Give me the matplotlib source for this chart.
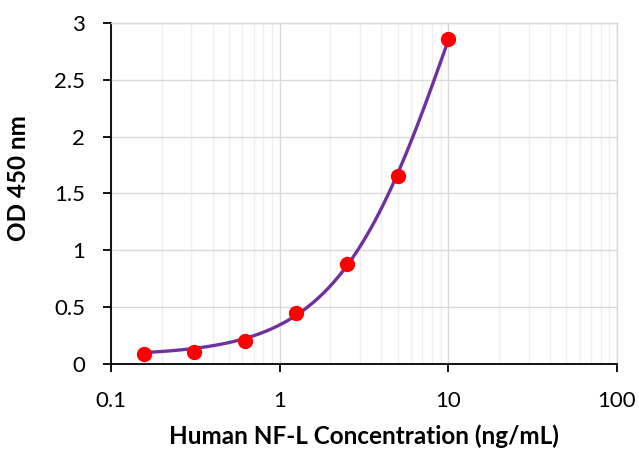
import numpy as np
import matplotlib
matplotlib.use("Agg")
import matplotlib.pyplot as plt
from matplotlib.ticker import FixedLocator, LogLocator, NullFormatter, FuncFormatter

conc = [0.156, 0.3125, 0.625, 1.25, 2.5, 5.0, 10.0]
od = [0.083, 0.106, 0.203, 0.444, 0.878, 1.652, 2.856]
# Fitted standard curve
curve_conc = [0.156, 0.3125, 0.625, 1.0, 1.25, 2.0, 2.5, 5.0, 10.0]
curve_od = [0.114, 0.140, 0.215, 0.326, 0.400, 0.710, 0.878, 1.652, 2.856]

x_ticks = [0.1, 1, 10, 100]
x_tick_labels = ["0.1", "1", "10", "100"]
y_ticks = [0, 0.5, 1, 1.5, 2, 2.5, 3]
y_tick_labels = ["0", "0.5", "1", "1.5", "2", "2.5", "3"]
x_label = "Human NF-L Concentration (ng/mL)"
y_label = "OD 450 nm"

# Smooth 4-parameter logistic through the sampled curve
X = np.array(curve_conc)
Y = np.array(curve_od)
best = None
for b in np.linspace(0.5, 4.0, 176):
    for lc in np.linspace(-0.5, 3.0, 176):
        c = 10 ** lc
        g = 1.0 / (1.0 + (X / c) ** b)
        A = np.column_stack([g, 1 - g])
        coef, *_ = np.linalg.lstsq(A, Y, rcond=None)
        r = np.sum((A @ coef - Y) ** 2)
        if best is None or r < best[0]:
            best = (r, coef[0], b, c, coef[1])
_, pa, pb, pc, pd = best
xf = np.logspace(np.log10(min(conc)), np.log10(max(conc)), 300)
yf = pd + (pa - pd) / (1.0 + (xf / pc) ** pb)

plt.rcParams['font.family'] = ['Lato', 'DejaVu Sans']

W, H = 639, 449
fig = plt.figure(figsize=(W / 100, H / 100), dpi=100)
ax = fig.add_axes([111 / W, 1 - 363.7 / H, (617 - 111) / W, (363.7 - 23) / H])

ax.set_xscale('log')
ax.set_xlim(0.1, 100)
ax.set_ylim(0, 3)

ax.xaxis.set_major_locator(FixedLocator(x_ticks))
ax.xaxis.set_major_formatter(FuncFormatter(
    lambda v, p: x_tick_labels[min(range(len(x_ticks)), key=lambda i: abs(np.log10(x_ticks[i]) - np.log10(v)))]))
ax.xaxis.set_minor_locator(LogLocator(base=10, subs=np.arange(2, 10)))
ax.xaxis.set_minor_formatter(NullFormatter())
ax.set_yticks(y_ticks)
ax.set_yticklabels(y_tick_labels)

ax.grid(True, which='major', axis='both', color='#d9d9d9', lw=1.0, zorder=0)
ax.grid(True, which='minor', axis='x', color='#efefef', lw=1.0, zorder=0)
ax.set_axisbelow(True)

ax.plot(xf, yf, color='#7030A0', lw=2.4, zorder=3, solid_capstyle='round')
ax.plot(conc, od, 'o', color='#FF0000', ms=10, mec='#FF0000', zorder=4)

for s in ['top', 'right']:
    ax.spines[s].set_color('#d9d9d9')
    ax.spines[s].set_linewidth(1.0)
for s in ['left', 'bottom']:
    ax.spines[s].set_color('black')
    ax.spines[s].set_linewidth(1.3)

ax.tick_params(axis='both', which='major', direction='out', length=6, width=1.3,
               color='black', labelsize=16, labelcolor='black')
ax.tick_params(axis='x', which='major', pad=13.5)
ax.tick_params(axis='y', which='major', pad=12.5)
ax.tick_params(axis='x', which='minor', length=0)

fig.text(364 / W, 1.5 / H, x_label, fontsize=17.5, fontweight='bold',
         ha='center', va='bottom')
fig.text(19 / W, 1 - 178 / H, y_label, fontsize=17.5, fontweight='bold',
         ha='center', va='center', rotation=90)

fig.savefig('out.png', dpi=100)
